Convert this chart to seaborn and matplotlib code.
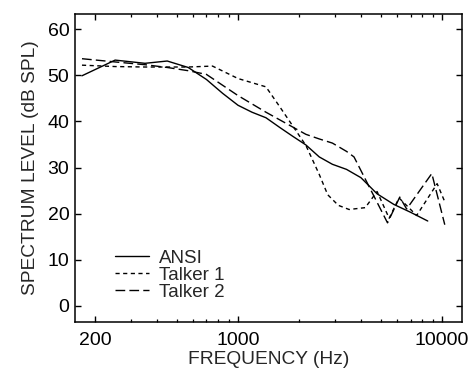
import numpy as np
import pandas as pd
import matplotlib
matplotlib.use('Agg')
import matplotlib.pyplot as plt
import seaborn as sns
from matplotlib.ticker import FixedLocator, NullFormatter

# values (frequency in Hz, level in dB SPL)
ansi_freq = [172, 250, 350, 450, 570, 700, 840, 1000, 1170, 1370, 1600, 1850,
             2150, 2500, 2900, 3400, 4000, 4800, 5800, 7000, 8500]
ansi_db = [49.9, 53.3, 52.6, 53.1, 51.7, 49.1, 46.1, 43.5, 42.0, 40.8, 38.7, 36.8,
           34.9, 32.3, 30.7, 29.6, 27.8, 24.3, 22.0, 20.3, 18.4]

talker1_freq = [172, 250, 350, 450, 570, 750, 1000, 1370, 1600, 2150, 2500, 2750,
                3100, 3500, 4200, 4800, 5500, 6150, 7500, 9450, 10250]
talker1_db = [52.2, 51.9, 51.8, 51.8, 51.8, 52.0, 49.3, 47.5, 43.2, 34.8, 28.5, 24.1,
              21.8, 20.9, 21.3, 24.8, 19.0, 23.4, 19.6, 26.5, 22.8]

talker2_freq = [172, 250, 350, 450, 570, 700, 1000, 1370, 2150, 2500, 2900, 3400,
                3700, 5400, 6200, 6700, 8900, 10300]
talker2_db = [53.6, 52.9, 52.3, 51.7, 51.0, 50.2, 45.6, 42.0, 37.2, 36.2, 35.3, 33.5,
              32.3, 18.0, 23.6, 21.0, 28.7, 17.6]

series_names = ['ANSI', 'Talker 1', 'Talker 2']

df = pd.concat([
    pd.DataFrame({'freq': ansi_freq, 'level': ansi_db, 'series': 'ANSI'}),
    pd.DataFrame({'freq': talker1_freq, 'level': talker1_db, 'series': 'Talker 1'}),
    pd.DataFrame({'freq': talker2_freq, 'level': talker2_db, 'series': 'Talker 2'}),
], ignore_index=True)

sns.set_style('ticks')
plt.rcParams['font.family'] = ['Liberation Sans', 'DejaVu Sans']

fig = plt.figure(figsize=(4.73, 3.68), dpi=100)
ax = fig.add_axes([0.1586, 0.125, 0.818, 0.837])

dashes = {'ANSI': '', 'Talker 1': (3, 2.5), 'Talker 2': (7, 3)}
palette = {n: 'black' for n in series_names}
sns.lineplot(data=df, x='freq', y='level', hue='series', style='series',
             hue_order=series_names, style_order=series_names,
             palette=palette, dashes=dashes, linewidth=1.0, ax=ax,
             estimator=None, sort=False)

ax.set_xscale('log')
ax.set_xlim(159, 12500)
ax.set_ylim(-3.5, 63.3)

ax.xaxis.set_major_locator(FixedLocator([200, 1000, 10000]))
ax.set_xticklabels(['200', '1000', '10000'])
minor = [300, 400, 500, 600, 700, 800, 900, 2000, 3000, 4000, 5000, 6000, 7000, 8000, 9000]
ax.xaxis.set_minor_locator(FixedLocator(minor))
ax.xaxis.set_minor_formatter(NullFormatter())
ax.set_yticks([0, 10, 20, 30, 40, 50, 60])

ax.tick_params(which='both', direction='in', top=True, right=True, colors='black',
               labelsize=14)
ax.tick_params(which='major', length=4, width=1.0)
ax.tick_params(which='minor', length=2.2, width=0.9)
ax.tick_params(axis='x', which='major', pad=7)
ax.tick_params(axis='y', which='major', pad=4)

for sp in ax.spines.values():
    sp.set_visible(True)
    sp.set_color('black')
    sp.set_linewidth(1.1)

ax.set_xlabel('FREQUENCY (Hz)', fontsize=13.8, labelpad=1.5)
ax.set_ylabel('SPECTRUM LEVEL (dB SPL)', fontsize=13.8, labelpad=6)

handles, labels = ax.get_legend_handles_labels()
ax.legend(handles, labels, loc='lower left', bbox_to_anchor=(0.103, 0.068),
          frameon=False, fontsize=13.5, handlelength=1.8, handletextpad=0.55,
          labelspacing=0.0, borderpad=0, borderaxespad=0)

fig.savefig('out.png', dpi=100)
